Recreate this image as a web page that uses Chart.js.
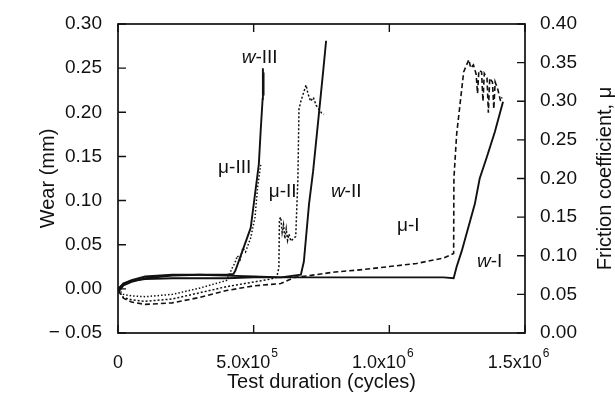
<!DOCTYPE html>
<html>
<head>
<meta charset="utf-8">
<script src="https://cdn.jsdelivr.net/npm/chart.js@4.4.0/dist/chart.umd.min.js"></script>
<style>
  html, body { margin: 0; padding: 0; background: #fff; }
  #wrap { width: 615px; height: 401px; }
</style>
</head>
<body>
<div id="wrap"><canvas id="wearChart" width="615" height="401"></canvas></div>
<script>
// Axis ticks
const xTicks = [0, 500000, 1000000, 1500000];
const wearTicks = [-0.05, 0.30, 0.05];      // min, max, step
const frictionTicks = [0, 0.40, 0.05];      // min, max, step

// Wear curves (left axis, mm)
const wIx = [0, 20000, 50000, 100000, 200000, 300000, 400000, 500000, 600000, 700000, 800000, 900000, 1000000, 1100000, 1200000, 1237000, 1248000, 1267000, 1315000, 1333000, 1360000, 1389000, 1419000];
const wIy = [0.000, 0.006, 0.009, 0.011, 0.012, 0.012, 0.012, 0.013, 0.013, 0.013, 0.013, 0.013, 0.013, 0.013, 0.013, 0.012, 0.025, 0.043, 0.096, 0.125, 0.150, 0.178, 0.212];

const wIIx = [0, 20000, 50000, 100000, 200000, 300000, 400000, 500000, 600000, 674000, 685000, 704000, 719000, 741000, 756000, 767000];
const wIIy = [-0.002, 0.006, 0.010, 0.014, 0.016, 0.016, 0.015, 0.014, 0.013, 0.016, 0.031, 0.096, 0.133, 0.200, 0.246, 0.281];

const wIIIx = [0, 20000, 50000, 100000, 200000, 300000, 400000, 426000, 433000, 489000, 519000, 526000, 533000, 534000, 535000, 536000, 537000];
const wIIIy = [-0.004, 0.004, 0.008, 0.012, 0.015, 0.016, 0.016, 0.017, 0.021, 0.069, 0.141, 0.180, 0.215, 0.250, 0.220, 0.245, 0.225];

// Friction curves (right axis)
const muIx = [0, 20000, 50000, 100000, 200000, 300000, 400000, 500000, 600000, 650000, 700000, 800000, 900000, 1000000, 1100000, 1200000, 1237000, 1238000, 1248000, 1274000, 1293000, 1300000, 1310000, 1320000, 1325000, 1330000, 1340000, 1345000, 1350000, 1360000, 1365000, 1370000, 1380000, 1385000, 1390000, 1400000, 1410000, 1415000];
const muIy = [0.055, 0.045, 0.040, 0.037, 0.039, 0.046, 0.055, 0.061, 0.064, 0.072, 0.074, 0.079, 0.082, 0.086, 0.090, 0.097, 0.103, 0.200, 0.257, 0.338, 0.354, 0.343, 0.347, 0.335, 0.310, 0.340, 0.338, 0.300, 0.336, 0.330, 0.285, 0.330, 0.325, 0.290, 0.325, 0.315, 0.300, 0.305];

const muIIx = [0, 20000, 50000, 100000, 200000, 300000, 400000, 500000, 550000, 585000, 593000, 595000, 600000, 605000, 610000, 615000, 620000, 625000, 630000, 637000, 655000, 663000, 667000, 674000, 693000, 700000, 710000, 720000, 730000, 740000, 750000, 759000];
const muIIy = [0.056, 0.046, 0.043, 0.041, 0.044, 0.052, 0.060, 0.066, 0.069, 0.072, 0.085, 0.147, 0.150, 0.130, 0.140, 0.122, 0.135, 0.120, 0.128, 0.119, 0.125, 0.200, 0.290, 0.300, 0.321, 0.310, 0.300, 0.305, 0.295, 0.290, 0.285, 0.283];

const muIIIx = [0, 20000, 50000, 100000, 200000, 300000, 400000, 422000, 430000, 440000, 450000, 460000, 470000, 489000, 505000, 515000, 526000];
const muIIIy = [0.057, 0.050, 0.048, 0.047, 0.050, 0.058, 0.068, 0.085, 0.090, 0.100, 0.095, 0.110, 0.105, 0.123, 0.150, 0.190, 0.218];

// Curve labels, anchored in wear-axis units
const curveLabels = [
  { sym: 'w', num: 'III', x: 522000, y: 0.262 },
  { sym: 'μ', num: 'III', x: 430000, y: 0.137 },
  { sym: 'μ', num: 'II', x: 607000, y: 0.110 },
  { sym: 'w', num: 'II', x: 841000, y: 0.110 },
  { sym: 'μ', num: 'I', x: 1070000, y: 0.071 },
  { sym: 'w', num: 'I', x: 1370000, y: 0.031 }
];

const INK = '#111';
const FONT = 'Liberation Sans, Arial, Helvetica, sans-serif';

function toPoints(xs, ys) {
  return xs.map((x, i) => ({ x: x, y: ys[i] }));
}

function curve(xs, ys, axis, dash, width) {
  return {
    data: toPoints(xs, ys),
    yAxisID: axis,
    showLine: true,
    borderColor: INK,
    borderWidth: width,
    borderDash: dash,
    pointRadius: 0,
    fill: false,
    tension: 0
  };
}

// tick value to label, avoiding "-0.00"
function fmt(v) {
  if (Math.abs(v) < 1e-9) return '0.00';
  return v < 0 ? '\u2212 ' + Math.abs(v).toFixed(2) : v.toFixed(2);
}

/**
 * Frame, inward ticks, x labels with exponents, right title and curve labels
 */
const decorPlugin = {
  id: 'decor',
  afterDatasetsDraw(chart) {
    const { ctx, chartArea: a, scales } = chart;
    const len = 8;
    ctx.save();
    ctx.strokeStyle = INK;
    ctx.lineWidth = 1.7;
    ctx.strokeRect(a.left, a.top, a.right - a.left, a.bottom - a.top);

    ctx.lineWidth = 1.4;
    ctx.beginPath();
    scales.y.ticks.forEach(t => {
      const py = scales.y.getPixelForValue(t.value);
      ctx.moveTo(a.left, py); ctx.lineTo(a.left + len, py);
    });
    scales.y2.ticks.forEach(t => {
      const py = scales.y2.getPixelForValue(t.value);
      ctx.moveTo(a.right, py); ctx.lineTo(a.right - len, py);
    });
    scales.x.ticks.forEach(t => {
      const px = scales.x.getPixelForValue(t.value);
      ctx.moveTo(px, a.bottom); ctx.lineTo(px, a.bottom - len);
      ctx.moveTo(px, a.top); ctx.lineTo(px, a.top + len);
    });
    ctx.stroke();

    // x tick labels: mantissa x10 with raised exponent
    ctx.fillStyle = INK;
    ctx.textBaseline = 'alphabetic';
    const base = 368;
    xTicks.forEach(v => {
      const px = scales.x.getPixelForValue(v);
      ctx.font = '18px ' + FONT;
      if (v === 0) {
        ctx.textAlign = 'center';
        ctx.fillText('0', px, base);
        return;
      }
      const e = Math.floor(Math.log10(v));
      const main = (v / Math.pow(10, e)).toFixed(1) + 'x10';
      const sup = String(e);
      const w1 = ctx.measureText(main).width;
      ctx.font = '12px ' + FONT;
      const w2 = ctx.measureText(sup).width;
      const left = px - (w1 + w2) / 2 - 7;
      ctx.textAlign = 'left';
      ctx.font = '18px ' + FONT;
      ctx.fillText(main, left, base);
      ctx.font = '12px ' + FONT;
      ctx.fillText(sup, left + w1 + 1, base - 11);
    });

    // right axis title, read bottom to top
    ctx.save();
    ctx.translate(605, (a.top + a.bottom) / 2);
    ctx.rotate(-Math.PI / 2);
    ctx.textAlign = 'center';
    ctx.textBaseline = 'middle';
    ctx.font = '20px ' + FONT;
    ctx.fillText('Friction coefficient, μ', 0, 0);
    ctx.restore();

    // curve labels
    ctx.textBaseline = 'middle';
    ctx.textAlign = 'left';
    curveLabels.forEach(l => {
      const px = scales.x.getPixelForValue(l.x);
      const py = scales.y.getPixelForValue(l.y);
      const symFont = (l.sym === 'w' ? 'italic ' : '') + '19px ' + FONT;
      ctx.font = symFont;
      const ws = ctx.measureText(l.sym).width;
      ctx.font = '19px ' + FONT;
      const wr = ctx.measureText('-' + l.num).width;
      const x0 = px - (ws + wr) / 2;
      ctx.font = symFont;
      ctx.fillText(l.sym, x0, py);
      ctx.font = '19px ' + FONT;
      ctx.fillText('-' + l.num, x0 + ws, py);
    });
    ctx.restore();
  }
};

const tickFont = { family: FONT, size: 19 };
const titleFont = { family: FONT, size: 20 };

new Chart(document.getElementById('wearChart'), {
  type: 'scatter',
  data: {
    datasets: [
      curve(wIx, wIy, 'y', [], 1.9),
      curve(wIIx, wIIy, 'y', [], 1.9),
      curve(wIIIx, wIIIy, 'y', [], 1.9),
      curve(muIx, muIy, 'y2', [5, 3], 1.6),
      curve(muIIx, muIIy, 'y2', [2, 2], 1.5),
      curve(muIIIx, muIIIy, 'y2', [1.5, 2], 1.5)
    ]
  },
  options: {
    responsive: false,
    animation: false,
    devicePixelRatio: 1,
    layout: { padding: { top: 24, left: 0, right: 0, bottom: 0 } },
    plugins: { legend: { display: false }, tooltip: { enabled: false } },
    scales: {
      x: {
        type: 'linear',
        min: xTicks[0],
        max: xTicks[xTicks.length - 1],
        ticks: { stepSize: xTicks[1] - xTicks[0], display: false },
        grid: { display: false },
        border: { display: false },
        title: { display: true, text: 'Test duration (cycles)', color: INK, font: titleFont, padding: { top: 0, bottom: 7 } },
        afterFit: s => { s.height = 68; }
      },
      y: {
        position: 'left',
        min: wearTicks[0],
        max: wearTicks[1],
        ticks: { stepSize: wearTicks[2], padding: 8, color: INK, font: tickFont, callback: fmt },
        grid: { display: false },
        border: { display: false },
        title: { display: true, text: 'Wear (mm)', color: INK, font: titleFont, padding: { top: 36, bottom: 0 } },
        afterFit: s => { s.width = 118; }
      },
      y2: {
        position: 'right',
        min: frictionTicks[0],
        max: frictionTicks[1],
        ticks: { stepSize: frictionTicks[2], padding: 7, color: INK, font: tickFont, callback: fmt },
        grid: { display: false },
        border: { display: false },
        afterFit: s => { s.width = 90; }
      }
    }
  },
  plugins: [decorPlugin]
});
</script>
</body>
</html>
